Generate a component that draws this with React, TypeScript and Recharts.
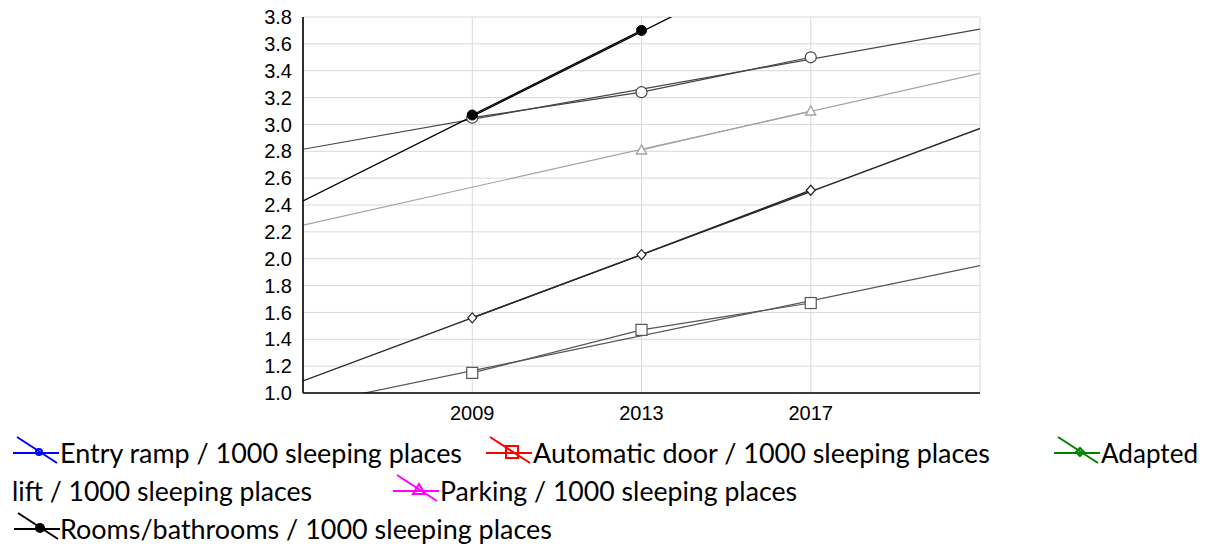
import { CartesianGrid, ComposedChart, Line, XAxis, YAxis } from "recharts";

// measured values per survey year
const YEARS = [2009, 2013, 2017];
const ENTRY_RAMP = [3.05, 3.24, 3.5];
const AUTOMATIC_DOOR = [1.15, 1.47, 1.67];
const ADAPTED_LIFT = [1.56, 2.03, 2.51];
const PARKING = [null, 2.81, 3.1];
const ROOMS = [3.07, 3.7, null];

// fitted lines, read where they meet the plot edges
const FIT_YEARS = [2005, 2021];
const ENTRY_RAMP_FIT = [2.815, 3.71];
const AUTOMATIC_DOOR_FIT = [0.905, 1.948];
const ADAPTED_LIFT_FIT = [1.09, 2.97];
const PARKING_FIT = [2.25, 3.38];
const ROOMS_FIT = [2.43, 4.95];

const X_TICKS = [2009, 2013, 2017];
const Y_TICKS = [1.0, 1.2, 1.4, 1.6, 1.8, 2.0, 2.2, 2.4, 2.6, 2.8, 3.0, 3.2, 3.4, 3.6, 3.8];

const LABEL_ENTRY = "Entry ramp / 1000 sleeping places";
const LABEL_DOOR = "Automatic door / 1000 sleeping places";
const LABEL_LIFT_1 = "Adapted";
const LABEL_LIFT_2 = "lift / 1000 sleeping places";
const LABEL_PARKING = "Parking / 1000 sleeping places";
const LABEL_ROOMS = "Rooms/bathrooms / 1000 sleeping places";

type Marker = "circle" | "square" | "diamond" | "triangle" | "dot";

const SERIES: { key: string; values: (number | null)[]; fit: number[]; color: string; legend: string; marker: Marker; width: number }[] = [
    { key: "entry", values: ENTRY_RAMP, fit: ENTRY_RAMP_FIT, color: "#454545", legend: "#0000ff", marker: "circle", width: 1.2 },
    { key: "door", values: AUTOMATIC_DOOR, fit: AUTOMATIC_DOOR_FIT, color: "#555555", legend: "#ff0000", marker: "square", width: 1.2 },
    { key: "lift", values: ADAPTED_LIFT, fit: ADAPTED_LIFT_FIT, color: "#262626", legend: "#008000", marker: "diamond", width: 1.3 },
    { key: "parking", values: PARKING, fit: PARKING_FIT, color: "#a3a3a3", legend: "#ff00ff", marker: "triangle", width: 1.2 },
    { key: "rooms", values: ROOMS, fit: ROOMS_FIT, color: "#000000", legend: "#000000", marker: "dot", width: 1.3 },
];

const rows = YEARS.map((year, i) => {
    const row: Record<string, number | null> = { year };
    SERIES.forEach((s) => { row[s.key] = s.values[i]; });
    return row;
});

const fitRows = (fit: number[]) => FIT_YEARS.map((year, i) => ({ year, v: fit[i] }));

function markerShape(type: Marker, color: string) {
    return (props: any) => {
        const { cx, cy, index } = props;
        if (cx == null || cy == null || props.value == null || Number.isNaN(cy)) return <g key={`m-${index}`} />;
        const k = `m-${index}`;
        if (type === "circle") return <circle key={k} cx={cx} cy={cy} r={5.5} fill="#fff" stroke={color} strokeWidth={1.2} />;
        if (type === "dot") return <circle key={k} cx={cx} cy={cy} r={5} fill={color} stroke={color} />;
        if (type === "square") return <rect key={k} x={cx - 5.5} y={cy - 5.5} width={11} height={11} fill="#fff" stroke={color} strokeWidth={1.2} />;
        if (type === "diamond") return <path key={k} d={`M${cx},${cy - 5}L${cx + 4.5},${cy}L${cx},${cy + 5}L${cx - 4.5},${cy}Z`} fill="#fff" stroke={color} strokeWidth={1.2} />;
        return <path key={k} d={`M${cx},${cy - 5}L${cx + 5},${cy + 4}L${cx - 5},${cy + 4}Z`} fill="#fff" stroke={color} strokeWidth={1.4} />;
    };
}

function LegendIcon({ x, base, color, marker }: { x: number; base: number; color: string; marker: Marker }) {
    const my = base - 11;
    const mx = x + 26;
    let m = null;
    if (marker === "circle") m = <circle cx={mx} cy={my} r={3} fill="none" stroke={color} strokeWidth={2} />;
    if (marker === "square") m = <rect x={mx - 6} y={my - 6} width={12} height={12} fill="none" stroke={color} strokeWidth={2} />;
    if (marker === "diamond") m = <path d={`M${mx},${my - 4}L${mx + 4},${my}L${mx},${my + 4}L${mx - 4},${my}Z`} fill="none" stroke={color} strokeWidth={2} />;
    if (marker === "triangle") m = <path d={`M${mx},${my - 6}L${mx + 6},${my + 4}L${mx - 6},${my + 4}Z`} fill="none" stroke={color} strokeWidth={2} />;
    if (marker === "dot") m = <circle cx={mx} cy={my} r={5} fill={color} />;
    return (
        <g>
            <line x1={x} y1={base - 10} x2={x + 46} y2={base - 10} stroke={color} strokeWidth={2} />
            <line x1={x + 4} y1={base - 26} x2={x + 44} y2={base} stroke={color} strokeWidth={2} />
            {m}
        </g>
    );
}

function LegendText({ x, end, base, text }: { x: number; end: number; base: number; text: string }) {
    return (
        <text x={x} y={base} textLength={end - x} lengthAdjust="spacingAndGlyphs" fontFamily="Lato" fontSize={26} fill="#000">
            {text}
        </text>
    );
}

const tickFont = { fill: "#000", fontSize: 20, fontFamily: "Liberation Sans, Arial, sans-serif" };

export default function App() {
    return (
        <div style={{ position: "relative", width: 1206, height: 546, background: "#fff" }}>
            <style>{"body{margin:0;background:#fff}"}</style>
            <ComposedChart width={1206} height={546} data={rows} margin={{ top: 17, right: 226, bottom: 123, left: 243 }}>
                <CartesianGrid stroke="#d9d9d9" strokeWidth={1} />
                <XAxis
                    dataKey="year"
                    type="number"
                    domain={[2005, 2021]}
                    ticks={X_TICKS}
                    interval={0}
                    allowDataOverflow
                    height={30}
                    axisLine={{ stroke: "#000", strokeWidth: 1.6 }}
                    tickLine={false}
                    tickSize={6}
                    tickMargin={7}
                    tick={tickFont}
                />
                <XAxis
                    xAxisId="top"
                    orientation="top"
                    dataKey="year"
                    type="number"
                    domain={[2005, 2021]}
                    ticks={X_TICKS}
                    interval={0}
                    allowDataOverflow
                    height={0}
                    mirror
                    tickSize={4}
                    axisLine={{ stroke: "#000", strokeWidth: 1.6 }}
                    tickLine={{ stroke: "#000", strokeWidth: 1.5 }}
                    tickFormatter={() => ""}
                />
                <YAxis
                    type="number"
                    domain={[1, 3.8]}
                    ticks={Y_TICKS}
                    interval={0}
                    allowDataOverflow
                    width={60}
                    axisLine={{ stroke: "#000", strokeWidth: 1.6 }}
                    tickLine={false}
                    tickSize={6}
                    tickMargin={5}
                    tickFormatter={(v: number) => v.toFixed(1)}
                    tick={tickFont}
                />
                <YAxis
                    yAxisId="right"
                    orientation="right"
                    type="number"
                    domain={[1, 3.8]}
                    ticks={Y_TICKS}
                    interval={0}
                    allowDataOverflow
                    width={0}
                    mirror
                    tickSize={5}
                    axisLine={{ stroke: "#000", strokeWidth: 1.6 }}
                    tickLine={{ stroke: "#000", strokeWidth: 1.5 }}
                    tickFormatter={() => ""}
                />
                {SERIES.map((s) => (
                    <Line
                        key={`${s.key}-fit`}
                        data={fitRows(s.fit)}
                        dataKey="v"
                        type="linear"
                        stroke={s.color}
                        strokeWidth={s.width}
                        dot={false}
                        activeDot={false}
                        isAnimationActive={false}
                    />
                ))}
                {SERIES.map((s) => (
                    <Line
                        key={s.key}
                        dataKey={s.key}
                        type="linear"
                        stroke={s.color}
                        strokeWidth={s.width}
                        dot={markerShape(s.marker, s.color)}
                        activeDot={false}
                        isAnimationActive={false}
                    />
                ))}
            </ComposedChart>
            <svg width={1206} height={546} style={{ position: "absolute", left: 0, top: 0, pointerEvents: "none" }}>
                <LegendIcon x={13} base={463} color={SERIES[0].legend} marker="circle" />
                <LegendText x={60} end={462} base={463} text={LABEL_ENTRY} />
                <LegendIcon x={486} base={463} color={SERIES[1].legend} marker="square" />
                <LegendText x={533} end={990} base={463} text={LABEL_DOOR} />
                <LegendIcon x={1054} base={463} color={SERIES[2].legend} marker="diamond" />
                <LegendText x={1101} end={1198} base={463} text={LABEL_LIFT_1} />
                <LegendText x={12} end={312} base={501} text={LABEL_LIFT_2} />
                <LegendIcon x={393} base={501} color={SERIES[3].legend} marker="triangle" />
                <LegendText x={440} end={797} base={501} text={LABEL_PARKING} />
                <LegendIcon x={14} base={539} color={SERIES[4].legend} marker="dot" />
                <LegendText x={60} end={552} base={539} text={LABEL_ROOMS} />
            </svg>
        </div>
    );
}
